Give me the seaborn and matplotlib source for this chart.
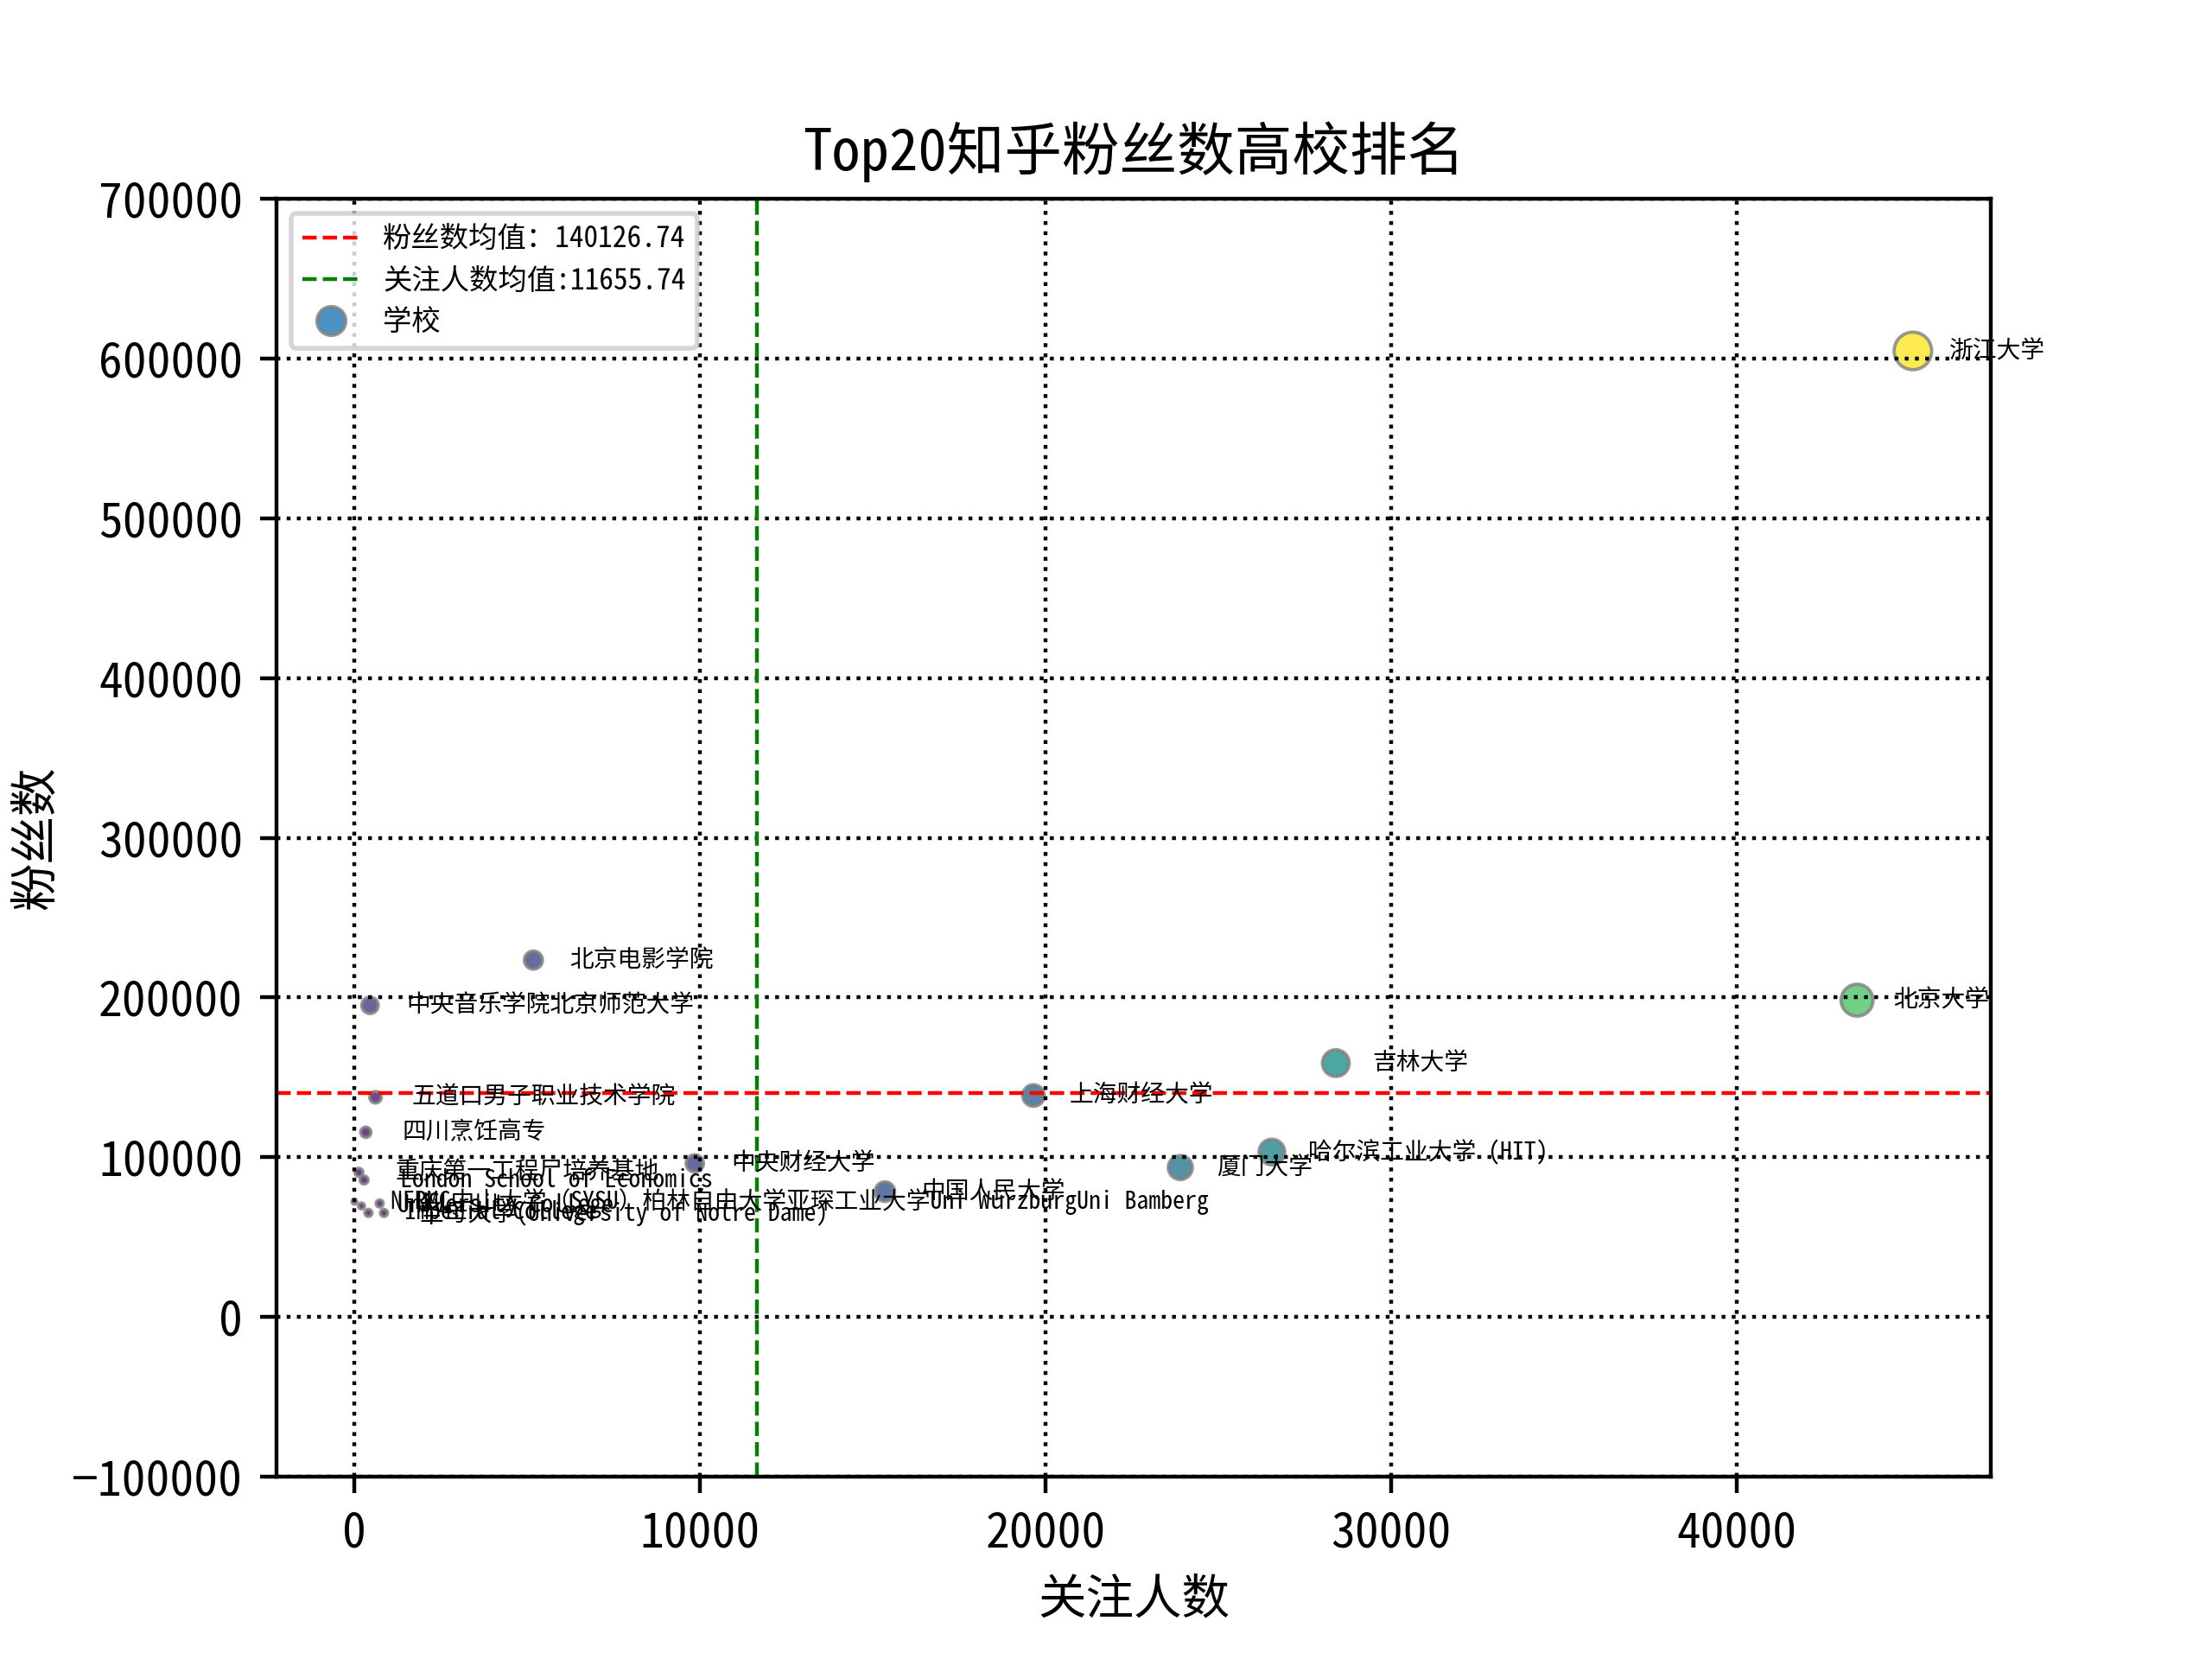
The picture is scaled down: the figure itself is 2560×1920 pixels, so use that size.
import matplotlib
matplotlib.use('Agg')
import matplotlib.pyplot as plt
from matplotlib.lines import Line2D
import seaborn as sns
import pandas as pd

FAMILY = ['Noto Sans Mono CJK SC', 'Noto Sans CJK SC', 'DejaVu Sans']
plt.rcParams['font.family'] = FAMILY

# ---- data ----
schools = [
    '浙江大学', '北京电影学院', '北京大学', '中央音乐学院北京师范大学', '吉林大学',
    '上海财经大学', '五道口男子职业技术学院', '四川烹饪高专', '哈尔滨工业大学 (HIT)',
    '中央财经大学', '厦门大学', '重庆第一工程尸培养基地', 'London School of Economics',
    '中国人民大学', 'NFRMC中山大学（SYSU）柏林自由大学亚琛工业大学Uni WürzburgUni Bamberg',
    'UCL', 'University College', 'Imperial College', '圣母大学(University of Notre Dame)',
]
follows = [45100, 5180, 43485, 450, 28400, 19650, 610, 330, 26550,
           9850, 23900, 130, 280, 15350, 0, 730, 205, 405, 854]
fans = [604908, 223400, 198300, 195100, 158900, 138600, 137500, 115600, 103200,
        96100, 93500, 90500, 85700, 78400, 72100, 71000, 69400, 65100, 65100]
heat = [100, 22, 72, 18, 50, 32, 8, 6, 46, 20, 40, 3, 3, 26, 0, 2, 1, 2, 2]

df = pd.DataFrame({'school': schools, 'follows': follows, 'fans': fans, 'heat': heat})
mean_follows = df['follows'].mean()
mean_fans = df['fans'].mean()

fig, ax = plt.subplots(figsize=(6.4, 4.8), dpi=400)

sns.scatterplot(data=df, x='follows', y='fans', hue='heat', size='heat',
                sizes=(1, 61), palette='viridis', alpha=0.8,
                edgecolor='grey', linewidth=0.7, legend=False, ax=ax)

ax.axhline(mean_fans, color='red', linestyle='--', linewidth=0.8)
ax.axvline(mean_follows, color='green', linestyle='--', linewidth=0.8)

for name, x, y in zip(df['school'], df['follows'], df['fans']):
    ax.text(x + 1050, y, name, fontsize=5, ha='left', va='center')

ax.set_ylim(-100000, 700000)
ax.grid(True, linestyle=':', color='black', linewidth=0.8)
ax.set_title('Top20知乎粉丝数高校排名', fontsize=12)
ax.set_xlabel('关注人数', fontsize=10)
ax.set_ylabel('粉丝数', fontsize=10)
ax.yaxis.set_label_coords(-0.126, 0.5)

handles = [
    Line2D([], [], color='red', linestyle='--', linewidth=0.8),
    Line2D([], [], color='green', linestyle='--', linewidth=0.8),
    Line2D([], [], linestyle='', marker='o', markersize=6, markerfacecolor='#1f77b4',
           markeredgecolor='grey', markeredgewidth=0.7, alpha=0.8),
]
labels = [f'粉丝数均值：{mean_fans:.2f}', f'关注人数均值:{mean_follows:.2f}', '学校']
ax.legend(handles, labels, loc='upper left', fontsize=6, labelspacing=0.46)

fig.savefig('out.png', dpi=400)
